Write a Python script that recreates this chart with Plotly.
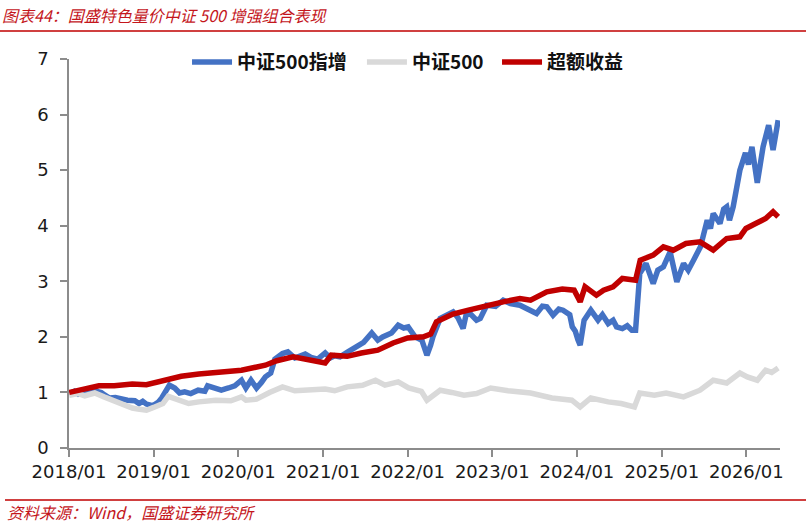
import plotly.graph_objects as go

# ---------------- data ----------------
enh_dates = ["2018-01-02","2018-01-25","2018-02-10","2018-03-10","2018-04-22","2018-05-20","2018-06-05","2018-06-25",
             "2018-07-20","2018-08-15","2018-09-10","2018-10-12","2018-10-30","2018-11-15","2018-12-01","2018-12-28",
             "2019-01-20","2019-02-05","2019-02-25","2019-03-10","2019-04-02","2019-04-23","2019-05-15","2019-06-10",
             "2019-07-12","2019-08-10","2019-08-22","2019-09-20","2019-10-20","2019-11-20","2019-12-17","2020-01-15",
             "2020-02-03","2020-02-25","2020-03-20","2020-04-10","2020-04-27","2020-05-20","2020-06-07","2020-07-10",
             "2020-08-02","2020-09-01","2020-09-25","2020-10-16","2020-11-10","2020-12-09","2021-01-10","2021-02-01",
             "2021-02-20","2021-03-15","2021-04-18","2021-05-10","2021-06-01","2021-06-25","2021-07-30","2021-08-25",
             "2021-09-15","2021-10-23","2021-11-21","2021-12-15","2022-01-03","2022-01-20","2022-02-02","2022-03-03",
             "2022-03-15","2022-03-25","2022-04-10","2022-04-20","2022-05-21","2022-06-20","2022-07-16","2022-08-05",
             "2022-08-28","2022-09-10","2022-09-27","2022-10-25","2022-11-10","2022-12-08","2023-01-15","2023-02-17",
             "2023-03-20","2023-04-30","2023-05-30","2023-07-11","2023-08-05","2023-08-24","2023-09-20","2023-10-15",
             "2023-11-02","2023-12-01","2023-12-12","2023-12-25","2024-01-05","2024-01-15","2024-02-01","2024-03-01",
             "2024-04-01","2024-04-20","2024-05-15","2024-06-05","2024-06-20","2024-07-15","2024-08-05","2024-08-25",
             "2024-09-10","2024-09-18","2024-09-28","2024-10-25","2024-11-25","2024-12-15","2025-01-08","2025-02-06",
             "2025-03-07","2025-04-05","2025-04-25","2025-05-18","2025-06-17","2025-07-16","2025-07-30","2025-08-11",
             "2025-09-09","2025-09-25","2025-10-08","2025-10-20","2025-11-05","2025-12-04","2025-12-28","2026-01-10",
             "2026-01-25","2026-02-17","2026-03-14","2026-04-07","2026-04-26","2026-05-18"]
enh_values = [0.97,1.02,0.97,1.03,1.03,1.00,0.95,0.90,
              0.91,0.88,0.86,0.85,0.80,0.84,0.79,0.76,
              0.82,0.90,1.05,1.13,1.08,0.99,1.01,0.98,
              1.04,1.02,1.12,1.08,1.04,1.08,1.12,1.22,
              1.08,1.22,1.08,1.18,1.28,1.35,1.60,1.70,
              1.73,1.62,1.66,1.69,1.63,1.60,1.71,1.62,
              1.66,1.64,1.73,1.78,1.82,1.90,2.07,1.94,
              2.00,2.07,2.21,2.16,2.18,2.05,2.00,1.94,
              1.80,1.67,1.85,2.00,2.33,2.40,2.45,2.35,
              2.15,2.40,2.42,2.30,2.33,2.57,2.55,2.66,
              2.60,2.57,2.50,2.42,2.55,2.54,2.39,2.50,
              2.48,2.40,2.18,2.10,1.95,1.85,2.30,2.48,
              2.30,2.40,2.24,2.30,2.18,2.15,2.20,2.12,
              2.12,2.79,3.14,3.32,2.96,3.20,3.26,3.53,
              2.99,3.32,3.20,3.38,3.62,4.10,3.95,4.22,
              4.04,4.30,4.34,4.10,4.34,5.00,5.31,5.10,
              5.42,4.77,5.42,5.81,5.36,5.90]

csi_dates = ["2018-01-02","2018-02-10","2018-03-10","2018-04-22","2018-06-01","2018-07-10","2018-08-20","2018-10-01",
             "2018-10-25","2018-12-01","2019-01-01","2019-02-10","2019-03-05","2019-04-10","2019-04-30","2019-06-01",
             "2019-07-15","2019-09-25","2019-11-30","2020-01-15","2020-02-03","2020-03-20","2020-05-15","2020-07-10",
             "2020-09-01","2020-11-01","2021-01-10","2021-02-20","2021-04-15","2021-06-20","2021-08-15","2021-09-25",
             "2021-11-21","2022-01-05","2022-03-01","2022-03-25","2022-05-21","2022-07-10","2022-09-01","2022-10-25",
             "2022-12-25","2023-03-10","2023-06-15","2023-09-15","2023-12-10","2024-01-15","2024-03-01","2024-05-15",
             "2024-07-10","2024-09-05","2024-09-28","2024-11-30","2025-01-20","2025-04-05","2025-06-15","2025-08-11",
             "2025-10-08","2025-12-04","2026-01-05","2026-02-17","2026-03-25","2026-04-20","2026-05-18"]
csi_values = [0.95,0.98,0.94,0.99,0.92,0.85,0.80,0.72,
              0.70,0.68,0.73,0.80,0.93,0.88,0.83,0.80,
              0.83,0.86,0.85,0.92,0.86,0.88,1.00,1.10,
              1.03,1.04,1.06,1.03,1.10,1.13,1.22,1.13,
              1.19,1.08,1.02,0.86,1.04,1.00,0.95,0.98,
              1.08,1.03,0.99,0.90,0.86,0.74,0.90,0.83,
              0.80,0.74,0.99,0.95,0.99,0.92,1.04,1.22,
              1.17,1.35,1.28,1.22,1.40,1.36,1.44]

exc_dates = ["2018-01-02","2018-02-20","2018-05-10","2018-07-15","2018-10-01","2018-12-01","2019-01-01","2019-02-10",
             "2019-04-30","2019-07-15","2019-09-25","2019-11-30","2020-01-15","2020-04-27","2020-06-15","2020-08-25",
             "2020-12-10","2021-01-10","2021-02-05","2021-04-15","2021-06-15","2021-08-25","2021-10-30","2022-01-01",
             "2022-03-10","2022-04-10","2022-05-05","2022-07-15","2022-09-20","2022-12-08","2023-02-17","2023-04-30",
             "2023-06-15","2023-08-24","2023-10-30","2023-12-20","2024-01-15","2024-02-05","2024-03-25","2024-04-25",
             "2024-06-05","2024-07-15","2024-09-10","2024-09-30","2024-11-25","2025-01-08","2025-02-20","2025-04-15",
             "2025-06-15","2025-08-11","2025-10-08","2025-12-04","2025-12-30","2026-02-10","2026-03-25","2026-04-26",
             "2026-05-18"]
exc_values = [1.00,1.05,1.12,1.12,1.15,1.14,1.17,1.22,
              1.29,1.33,1.35,1.37,1.40,1.49,1.57,1.64,
              1.55,1.53,1.67,1.65,1.71,1.76,1.89,1.98,
              2.00,2.05,2.27,2.41,2.48,2.57,2.63,2.69,
              2.66,2.81,2.86,2.84,2.63,2.90,2.75,2.84,
              2.90,3.05,3.02,3.38,3.47,3.62,3.56,3.68,
              3.71,3.56,3.77,3.80,3.95,4.04,4.13,4.25,
              4.16]

series_names = ["中证500指增", "中证500", "超额收益"]
series_colors = ["#4472C4", "#D9D9D9", "#C00000"]

tick_vals = ["2018-01-01","2019-01-01","2020-01-01","2021-01-01","2022-01-01",
             "2023-01-01","2024-01-01","2025-01-01","2026-01-01"]
tick_text = ["2018/01","2019/01","2020/01","2021/01","2022/01",
             "2023/01","2024/01","2025/01","2026/01"]

title_text = "图表44：国盛特色量价中证 500 增强组合表现"
source_text = "资料来源：Wind，国盛证券研究所"

# ---------------- figure ----------------
fig = go.Figure()
legend_ids = ["legend", "legend2", "legend3"]
for d, v, name, col, lg in [(enh_dates, enh_values, series_names[0], series_colors[0], legend_ids[0]),
                            (csi_dates, csi_values, series_names[1], series_colors[1], legend_ids[1]),
                            (exc_dates, exc_values, series_names[2], series_colors[2], legend_ids[2])]:
    fig.add_trace(go.Scatter(x=d, y=v, mode="lines", name=name, legend=lg,
                             line=dict(color=col, width=5.5)))

axis_col = "#8C8C8C"
tick_font = dict(family="DejaVu Sans", size=18, color="#1a1a1a")
leg_font = dict(family="Noto Sans CJK SC", size=19, color="#111111", weight="bold")

def leg(xpos):
    return dict(orientation="h", x=xpos, xanchor="left", y=0.992, yanchor="middle",
                font=leg_font, itemwidth=40, bgcolor="rgba(0,0,0,0)", borderwidth=0)

fig.update_layout(
    width=811, height=526,
    margin=dict(l=69, r=31, t=59, b=78),
    paper_bgcolor="white", plot_bgcolor="white",
    showlegend=True,
    legend=leg(0.166), legend2=leg(0.412), legend3=leg(0.602),
    xaxis=dict(type="date", range=["2018-01-01", "2026-05-26"],
               tickvals=tick_vals, ticktext=tick_text,
               showgrid=False, zeroline=False,
               showline=True, linecolor=axis_col, linewidth=1.5,
               ticks="outside", ticklen=7, tickcolor=axis_col, tickwidth=1.5,
               tickfont=tick_font),
    yaxis=dict(range=[0, 7], dtick=1, tick0=0,
               showgrid=False, zeroline=False,
               showline=True, linecolor=axis_col, linewidth=1.5,
               ticks="outside", ticklen=7, tickcolor=axis_col, tickwidth=1.5,
               tickfont=tick_font, ticklabelstandoff=8),
)

red_txt = "#C4161C"
fig.add_annotation(text=title_text, xref="paper", yref="paper",
                   x=-69/711, y=1 + (59-15)/389, xanchor="left", yanchor="middle",
                   showarrow=False,
                   font=dict(family="Noto Sans CJK SC", size=16, color=red_txt, style="italic"))
fig.add_annotation(text=source_text, xref="paper", yref="paper",
                   x=-64/711, y=-(512-448)/389, xanchor="left", yanchor="middle",
                   showarrow=False,
                   font=dict(family="Noto Sans CJK SC", size=16, color=red_txt, style="italic"))
# decorative rules (title underline and source overline)
fig.add_shape(type="line", xref="paper", yref="paper",
              x0=-69/711, x1=(806-69)/711, y0=1 + (59-31)/389, y1=1 + (59-31)/389,
              line=dict(color="#C00000", width=1.5))
fig.add_shape(type="line", xref="paper", yref="paper",
              x0=-64/711, x1=(806-69)/711, y0=-(500-448)/389, y1=-(500-448)/389,
              line=dict(color="#C00000", width=1.5))

fig.write_html("out.html")
